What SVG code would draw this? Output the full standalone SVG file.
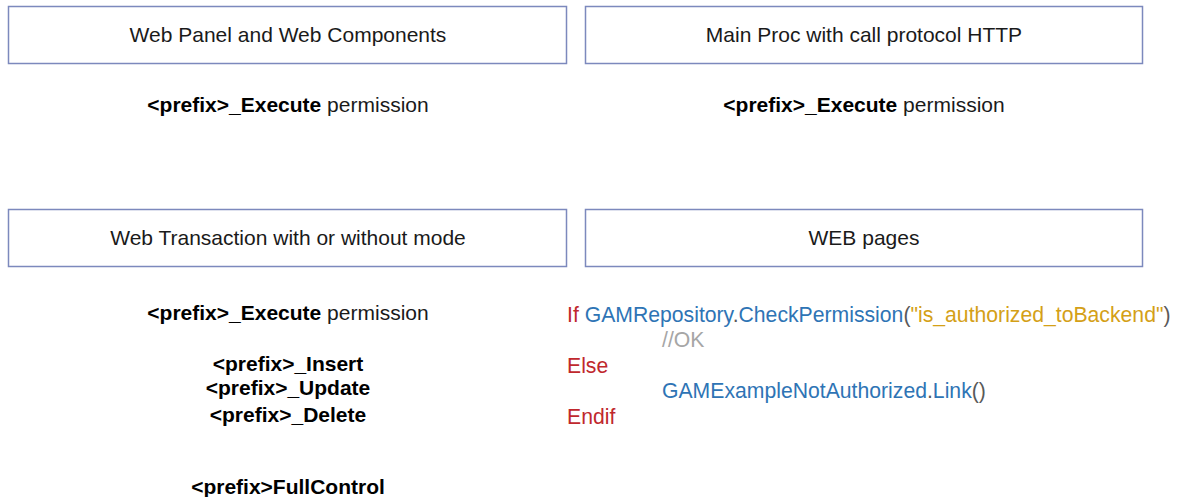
<svg xmlns="http://www.w3.org/2000/svg" width="1185" height="497" viewBox="0 0 1185 497">
  <style>
    .box { fill: #ffffff; stroke: #7c89bd; stroke-width: 1.5; }
    .t { font-family: "Liberation Sans", Arial, sans-serif; font-size: 21px; fill: #1a1a1a; }
    .c { text-anchor: middle; }
    .b { font-weight: bold; fill: #000000; }
    .code { font-size: 21.2px; }
    .kw { fill: #c0282d; }
    .id { fill: #2e74b5; }
    .str { fill: #d4a017; }
    .cm { fill: #a6a6a6; }
    .pu { fill: #595959; }
  </style>
  <rect width="1185" height="497" fill="#ffffff"/>

  <g id="web-panel">
    <rect class="box" x="8.5" y="6.5" width="558" height="57"/>
    <text class="t c" x="288" y="42">Web Panel and  Web Components</text>
    <text class="t c" x="288" y="112"><tspan class="b">&lt;prefix&gt;_Execute</tspan>  permission</text>
  </g>

  <g id="main-proc">
    <rect class="box" x="585.5" y="6.5" width="557" height="57"/>
    <text class="t c" x="864" y="42">Main Proc with call protocol HTTP</text>
    <text class="t c" x="864" y="112"><tspan class="b">&lt;prefix&gt;_Execute</tspan>  permission</text>
  </g>

  <g id="web-transaction">
    <rect class="box" x="8.5" y="209.5" width="558" height="57"/>
    <text class="t c" x="288" y="245">Web Transaction with or without mode</text>
    <text class="t c" x="288" y="320"><tspan class="b">&lt;prefix&gt;_Execute</tspan>  permission</text>
    <text class="t c b" x="288" y="371">&lt;prefix&gt;_Insert</text>
    <text class="t c b" x="288" y="395">&lt;prefix&gt;_Update</text>
    <text class="t c b" x="288" y="422">&lt;prefix&gt;_Delete</text>
    <text class="t c b" x="288" y="494">&lt;prefix&gt;FullControl</text>
  </g>

  <g id="web-pages">
    <rect class="box" x="585.5" y="209.5" width="557" height="57"/>
    <text class="t c" x="864" y="245">WEB pages</text>
    <text class="t code" x="567" y="322"><tspan class="kw">If</tspan> <tspan class="id">GAMRepository</tspan><tspan class="pu">.</tspan><tspan class="id">CheckPermission</tspan><tspan class="pu">(</tspan><tspan class="str">"is_authorized_toBackend"</tspan><tspan class="pu">)</tspan></text>
    <text class="t code cm" x="662" y="347">//OK</text>
    <text class="t code kw" x="567" y="373">Else</text>
    <text class="t code" x="662" y="398"><tspan class="id">GAMExampleNotAuthorized</tspan><tspan class="pu">.</tspan><tspan class="id">Link</tspan><tspan class="pu">()</tspan></text>
    <text class="t code kw" x="567" y="424">Endif</text>
  </g>

  <g id="connectors"/>
</svg>
